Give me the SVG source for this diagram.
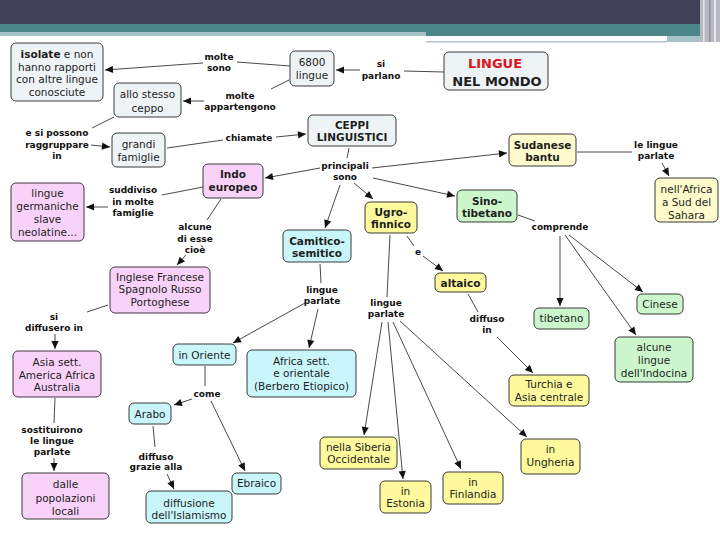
<svg xmlns="http://www.w3.org/2000/svg" width="720" height="540" viewBox="0 0 720 540">
<style>
.n rect{stroke:#3a3a3a;stroke-width:1}
.g rect{fill:#eef3f5}
.p rect{fill:#f9d2f9}
.y rect{fill:#fdf99c}
.yl rect{fill:#fffbcc}
.gr rect{fill:#ccf6cc}
.c rect{fill:#c9f6fa}
text{font-family:"DejaVu Sans",Verdana,sans-serif;text-anchor:middle;fill:#1e1e1e}
.t{font-size:10.5px}
.tb{font-size:10.5px;font-weight:bold}
.l{font-size:9px;font-weight:bold;fill:#111}
#conn line{stroke:#333;stroke-width:0.9;fill:none}
#conn .a{marker-end:url(#arr)}
</style>
<defs>
<marker id="arr" viewBox="0 0 10 10" refX="10" refY="5" markerWidth="9" markerHeight="8" markerUnits="userSpaceOnUse" orient="auto"><path d="M0,0.5 L10,5 L0,9.5 z" fill="#111"/></marker>
</defs>
<rect width="720" height="540" fill="#ffffff"/>
<g id="header">
<rect x="0" y="0" width="720" height="24" fill="#414257"/>
<rect x="0" y="24" width="700" height="12" fill="#4a8587"/>
<rect x="0" y="32" width="426" height="4" fill="#a6c2c6"/>
<rect x="667" y="36" width="33" height="6" fill="#a6c2c6"/>
<rect x="426" y="41" width="241" height="1.5" fill="#b3c3c7"/>
<rect x="700" y="0" width="20" height="42" fill="#b7b8c1"/>
<rect x="703" y="0" width="1.5" height="42" fill="#e6e6ea"/>
<rect x="709" y="0" width="1.5" height="42" fill="#8e909c"/>
<rect x="714" y="0" width="2" height="42" fill="#e6e6ea"/>
</g>
<g id="conn">
<line x1="290" y1="66" x2="237" y2="62"/>
<line class="a" x1="203" y1="63" x2="105" y2="70"/>
<line x1="289" y1="80" x2="271" y2="89"/>
<line class="a" x1="204" y1="101" x2="183" y2="101"/>
<line x1="444" y1="72" x2="404" y2="71"/>
<line class="a" x1="360" y1="70" x2="336" y2="70"/>
<line x1="114" y1="117" x2="92" y2="128"/>
<line class="a" x1="91" y1="145" x2="110" y2="147"/>
<line x1="167" y1="148" x2="223" y2="140"/>
<line class="a" x1="276" y1="137" x2="306" y2="134"/>
<line x1="349" y1="148" x2="347" y2="158"/>
<line class="a" x1="320" y1="168" x2="265" y2="178"/>
<line class="a" x1="372" y1="168" x2="507" y2="153"/>
<line class="a" x1="340" y1="185" x2="325" y2="228"/>
<line class="a" x1="354" y1="183" x2="373" y2="199"/>
<line class="a" x1="373" y1="178" x2="455" y2="196"/>
<line x1="577" y1="152" x2="632" y2="152"/>
<line class="a" x1="662" y1="163" x2="669" y2="176"/>
<line x1="203" y1="187" x2="162" y2="195"/>
<line class="a" x1="108" y1="207" x2="86" y2="207"/>
<line x1="221" y1="199" x2="207" y2="220"/>
<line class="a" x1="186" y1="255" x2="177" y2="265"/>
<line x1="108" y1="305" x2="87" y2="312"/>
<line class="a" x1="55" y1="334" x2="55" y2="349"/>
<line x1="55" y1="398" x2="54" y2="423"/>
<line class="a" x1="54" y1="458" x2="54" y2="471"/>
<line x1="518" y1="215" x2="535" y2="221"/>
<line class="a" x1="560" y1="236" x2="560" y2="306"/>
<line class="a" x1="569" y1="235" x2="643" y2="292"/>
<line class="a" x1="565" y1="235" x2="636" y2="335"/>
<line x1="390" y1="235" x2="387" y2="297"/>
<line x1="407" y1="236" x2="414" y2="246"/>
<line class="a" x1="423" y1="256" x2="443" y2="271"/>
<line x1="468" y1="294" x2="478" y2="312"/>
<line class="a" x1="497" y1="337" x2="533" y2="373"/>
<line x1="320" y1="264" x2="321" y2="283"/>
<line class="a" x1="305" y1="303" x2="233" y2="343"/>
<line class="a" x1="318" y1="309" x2="309" y2="348"/>
<line class="a" x1="382" y1="322" x2="364" y2="435"/>
<line class="a" x1="388" y1="322" x2="403" y2="479"/>
<line class="a" x1="393" y1="322" x2="461" y2="469"/>
<line class="a" x1="400" y1="321" x2="527" y2="437"/>
<line x1="205" y1="366" x2="205" y2="386"/>
<line class="a" x1="192" y1="399" x2="174" y2="405"/>
<line class="a" x1="211" y1="401" x2="245" y2="471"/>
<line x1="153" y1="426" x2="155" y2="447"/>
<line class="a" x1="167" y1="474" x2="174" y2="489"/>
</g>
<g id="labels">
<text class="l" x="219" y="60">molte</text><text class="l" x="219" y="71">sono</text>
<text class="l" x="381" y="67">si</text><text class="l" x="381" y="79">parlano</text>
<text class="l" x="240" y="99">molte</text><text class="l" x="240" y="110">appartengono</text>
<text class="l" x="57" y="136">e si possono</text><text class="l" x="57" y="148">raggruppare</text><text class="l" x="57" y="159">in</text>
<text class="l" x="249" y="141">chiamate</text>
<text class="l" x="345" y="169">principali</text><text class="l" x="345" y="180">sono</text>
<text class="l" x="656" y="148">le lingue</text><text class="l" x="656" y="159">parlate</text>
<text class="l" x="133" y="193">suddiviso</text><text class="l" x="133" y="205">in molte</text><text class="l" x="133" y="216">famiglie</text>
<text class="l" x="195" y="230">alcune</text><text class="l" x="195" y="242">di esse</text><text class="l" x="195" y="253">cioè</text>
<text class="l" x="54" y="320">si</text><text class="l" x="54" y="331">diffusero in</text>
<text class="l" x="418" y="255">e</text>
<text class="l" x="560" y="230">comprende</text>
<text class="l" x="322" y="293">lingue</text><text class="l" x="322" y="304">parlate</text>
<text class="l" x="386" y="306">lingue</text><text class="l" x="386" y="317">parlate</text>
<text class="l" x="487" y="322">diffuso</text><text class="l" x="487" y="333">in</text>
<text class="l" x="207" y="397">come</text>
<text class="l" x="52" y="433">sostituirono</text><text class="l" x="52" y="444">le lingue</text><text class="l" x="52" y="455">parlate</text>
<text class="l" x="156" y="460">diffuso</text><text class="l" x="156" y="470">grazie alla</text>
</g>
<g id="n1" class="n g"><rect x="11" y="43" width="92" height="58" rx="5"/><text class="t" x="57" y="58"><tspan font-weight="bold">isolate</tspan> e non</text><text class="t" x="57" y="71">hanno rapporti</text><text class="t" x="57" y="83">con altre lingue</text><text class="t" x="57" y="96">conosciute</text></g>
<g id="n2" class="n g"><rect x="114" y="83" width="67" height="34" rx="5"/><text class="t" x="147.5" y="98">allo stesso</text><text class="t" x="147.5" y="112">ceppo</text></g>
<g id="n3" class="n g"><rect x="112" y="133" width="53" height="34" rx="5"/><text class="t" x="138.5" y="148">grandi</text><text class="t" x="138.5" y="161">famiglie</text></g>
<g id="n4" class="n g"><rect x="290" y="51" width="44" height="35" rx="5"/><text class="t" x="312" y="66">6800</text><text class="t" x="312" y="79">lingue</text></g>
<g id="n5" class="n g"><rect x="444" y="52" width="104" height="38" rx="5"/><text x="495" y="68" font-size="13" font-weight="bold" fill="#d8141c" style="fill:#d8141c">LINGUE</text><text x="497" y="86" font-size="13" font-weight="bold">NEL MONDO</text></g>
<g id="n6" class="n g"><rect x="308" y="115" width="88" height="31" rx="5"/><text class="tb" x="352" y="129">CEPPI</text><text class="tb" x="352" y="141">LINGUISTICI</text></g>
<g id="n7" class="n yl"><rect x="509" y="134" width="67" height="32" rx="5"/><text class="tb" x="542.5" y="149">Sudanese</text><text class="tb" x="542.5" y="161">bantu</text></g>
<g id="n8" class="n yl"><rect x="655" y="178" width="63" height="44" rx="5"/><text class="t" x="686.5" y="193">nell'Africa</text><text class="t" x="686.5" y="206">a Sud del</text><text class="t" x="686.5" y="219">Sahara</text></g>
<g id="n9" class="n p"><rect x="203" y="164" width="60" height="34" rx="5"/><text class="tb" x="233" y="178">Indo</text><text class="tb" x="233" y="191">europeo</text></g>
<g id="n10" class="n p"><rect x="11" y="183" width="73" height="58" rx="5"/><text class="t" x="47.5" y="197">lingue</text><text class="t" x="47.5" y="210">germaniche</text><text class="t" x="47.5" y="223">slave</text><text class="t" x="47.5" y="236">neolatine...</text></g>
<g id="n11" class="n y"><rect x="365" y="202" width="52" height="31" rx="5"/><text class="tb" x="391" y="216">Ugro-</text><text class="tb" x="391" y="228">finnico</text></g>
<g id="n12" class="n gr"><rect x="457" y="190" width="60" height="32" rx="5"/><text class="tb" x="487" y="205">Sino-</text><text class="tb" x="487" y="217">tibetano</text></g>
<g id="n13" class="n c"><rect x="283" y="230" width="68" height="32" rx="5"/><text class="tb" x="317" y="245">Camitico-</text><text class="tb" x="317" y="257">semitico</text></g>
<g id="n14" class="n y"><rect x="435" y="273" width="51" height="19" rx="5"/><text class="tb" x="460.5" y="287">altaico</text></g>
<g id="n15" class="n p"><rect x="110" y="267" width="100" height="46" rx="5"/><text class="t" x="160" y="281">Inglese Francese</text><text class="t" x="160" y="293">Spagnolo Russo</text><text class="t" x="160" y="306">Portoghese</text></g>
<g id="n16" class="n gr"><rect x="637" y="294" width="46" height="20" rx="5"/><text class="t" x="660" y="308">Cinese</text></g>
<g id="n17" class="n gr"><rect x="534" y="308" width="55" height="21" rx="5"/><text class="t" x="561.5" y="322">tibetano</text></g>
<g id="n18" class="n gr"><rect x="615" y="337" width="78" height="45" rx="5"/><text class="t" x="654" y="351">alcune</text><text class="t" x="654" y="364">lingue</text><text class="t" x="654" y="377">dell'Indocina</text></g>
<g id="n19" class="n p"><rect x="13" y="351" width="88" height="46" rx="5"/><text class="t" x="57" y="366">Asia sett.</text><text class="t" x="57" y="379">America Africa</text><text class="t" x="57" y="391">Australia</text></g>
<g id="n20" class="n c"><rect x="173" y="344" width="63" height="21" rx="5"/><text class="t" x="204.5" y="359">in Oriente</text></g>
<g id="n21" class="n c"><rect x="247" y="350" width="109" height="47" rx="5"/><text class="t" x="301.5" y="365">Africa sett.</text><text class="t" x="301.5" y="377">e orientale</text><text class="t" x="301.5" y="390">(Berbero Etiopico)</text></g>
<g id="n22" class="n c"><rect x="129" y="403" width="42" height="21" rx="5"/><text class="t" x="150" y="418">Arabo</text></g>
<g id="n23" class="n y"><rect x="509" y="375" width="80" height="31" rx="5"/><text class="t" x="549" y="388">Turchia e</text><text class="t" x="549" y="401">Asia centrale</text></g>
<g id="n24" class="n p"><rect x="22" y="473" width="87" height="46" rx="5"/><text class="t" x="65.5" y="488">dalle</text><text class="t" x="65.5" y="502">popolazioni</text><text class="t" x="65.5" y="515">locali</text></g>
<g id="n25" class="n c"><rect x="146" y="491" width="86" height="32" rx="5"/><text class="t" x="189" y="507">diffusione</text><text class="t" x="189" y="519">dell'Islamismo</text></g>
<g id="n26" class="n c"><rect x="232" y="473" width="49" height="21" rx="5"/><text class="t" x="256.5" y="487">Ebraico</text></g>
<g id="n27" class="n y"><rect x="320" y="437" width="77" height="32" rx="5"/><text class="t" x="358.5" y="451">nella Siberia</text><text class="t" x="358.5" y="463">Occidentale</text></g>
<g id="n28" class="n y"><rect x="380" y="481" width="51" height="32" rx="5"/><text class="t" x="405.5" y="495">in</text><text class="t" x="405.5" y="507">Estonia</text></g>
<g id="n29" class="n y"><rect x="443" y="472" width="60" height="32" rx="5"/><text class="t" x="473" y="486">in</text><text class="t" x="473" y="498">Finlandia</text></g>
<g id="n30" class="n y"><rect x="521" y="439" width="59" height="35" rx="5"/><text class="t" x="550.5" y="453">in</text><text class="t" x="550.5" y="466">Ungheria</text></g>
</svg>
